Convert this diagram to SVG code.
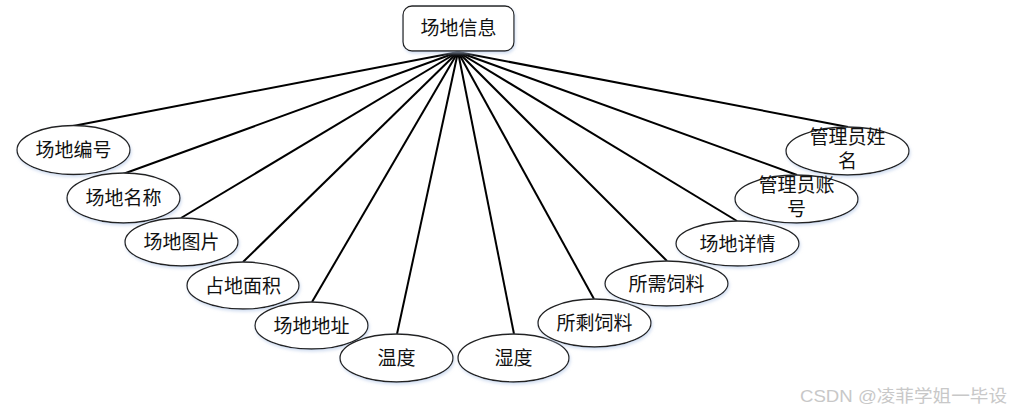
<svg xmlns="http://www.w3.org/2000/svg" width="1013" height="415" viewBox="0 0 1013 415">
<style>
.n{fill:#fff;stroke:#222;stroke-width:1.3;filter:url(#sh)}
.t{font-family:"Liberation Serif","Noto Sans CJK SC",serif;font-size:19px;fill:#111;text-anchor:middle}
.c line{stroke:#000;stroke-width:2}
.w{font-family:"Liberation Sans","Noto Sans CJK SC",sans-serif;font-size:17px;fill:#c8c8c8}
</style>
<defs>
<filter id="sh" x="-20%" y="-20%" width="140%" height="140%">
<feDropShadow dx="1" dy="2" stdDeviation="1.5" flood-color="#b8cbe8" flood-opacity="0.6"/>
</filter>
</defs>
<rect width="1013" height="415" fill="#fff"/>
<g class="c">
<line x1="458" y1="52" x2="73" y2="126"/>
<line x1="458" y1="52" x2="123" y2="174"/>
<line x1="458" y1="52" x2="181" y2="218"/>
<line x1="458" y1="52" x2="243" y2="262"/>
<line x1="458" y1="52" x2="312" y2="302"/>
<line x1="458" y1="52" x2="397" y2="334"/>
<line x1="458" y1="52" x2="514" y2="334"/>
<line x1="458" y1="52" x2="594" y2="299"/>
<line x1="458" y1="52" x2="667" y2="261"/>
<line x1="458" y1="52" x2="737" y2="221"/>
<line x1="458" y1="52" x2="797" y2="175"/>
<line x1="458" y1="52" x2="848" y2="127"/>
</g>
<g id="root"><rect class="n" x="403" y="6" width="111" height="45" rx="9"/><text class="t" x="458.5" y="35">场地信息</text></g>
<g id="a1"><ellipse class="n" cx="73.5" cy="150" rx="56.5" ry="24.5"/><text class="t" x="73.5" y="157">场地编号</text></g>
<g id="a2"><ellipse class="n" cx="123.5" cy="198" rx="56.5" ry="25"/><text class="t" x="123.5" y="205">场地名称</text></g>
<g id="a3"><ellipse class="n" cx="181.5" cy="242" rx="56.5" ry="24"/><text class="t" x="181.5" y="249">场地图片</text></g>
<g id="a4"><ellipse class="n" cx="243" cy="285.5" rx="56" ry="23.5"/><text class="t" x="243" y="292.5">占地面积</text></g>
<g id="a5"><ellipse class="n" cx="311.5" cy="325.5" rx="56.5" ry="23.5"/><text class="t" x="311.5" y="332.5">场地地址</text></g>
<g id="a6"><ellipse class="n" cx="396.5" cy="358" rx="56.5" ry="24"/><text class="t" x="396.5" y="365">温度</text></g>
<g id="a7"><ellipse class="n" cx="513.5" cy="358" rx="55.5" ry="24"/><text class="t" x="513.5" y="365">湿度</text></g>
<g id="a8"><ellipse class="n" cx="594.5" cy="323" rx="56.5" ry="24"/><text class="t" x="594.5" y="330">所剩饲料</text></g>
<g id="a9"><ellipse class="n" cx="666.5" cy="283.5" rx="61.5" ry="22.5"/><text class="t" x="666.5" y="290.5">所需饲料</text></g>
<g id="a10"><ellipse class="n" cx="737.5" cy="243.5" rx="61.5" ry="22.5"/><text class="t" x="737.5" y="250.5">场地详情</text></g>
<g id="a11"><ellipse class="n" cx="796.5" cy="199" rx="61.5" ry="24"/><text class="t" x="796.5" y="192">管理员账</text><text class="t" x="796.5" y="216">号</text></g>
<g id="a12"><ellipse class="n" cx="847.5" cy="151" rx="61.5" ry="24"/><text class="t" x="847.5" y="144">管理员姓</text><text class="t" x="847.5" y="168">名</text></g>
<text class="w" x="800" y="402" textLength="207" lengthAdjust="spacingAndGlyphs">CSDN @凌菲学姐一毕设</text>
</svg>
